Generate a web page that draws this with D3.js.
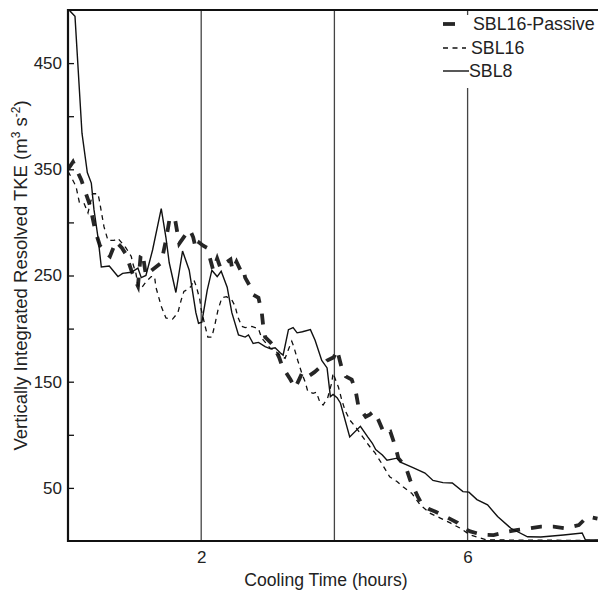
<!DOCTYPE html>
<html><head><meta charset="utf-8">
<script src="https://cdn.jsdelivr.net/npm/d3@7"></script>
<style>body{margin:0;background:#fff}svg{display:block}text{font-family:"Liberation Sans",Arial,Helvetica,sans-serif;fill:#222}</style>
</head><body><svg id="c" width="598" height="592"></svg>
<script>
// Data (time in hours, TKE in m^3 s^-2)
const sbl8 = [[0.00,505],[0.03,499],[0.105,494],[0.21,384],[0.29,347],[0.35,337],[0.39,312],[0.45,286],[0.50,258],[0.62,259],[0.75,249],[0.82,252],[0.95,253],[1.05,257],[1.10,248],[1.17,250],[1.27,274],[1.40,313],[1.47,286],[1.52,262],[1.62,234],[1.72,273],[1.82,255],[1.92,215],[1.96,205],[2.01,206],[2.09,236],[2.16,255],[2.24,249],[2.30,254],[2.39,239],[2.46,215],[2.56,194],[2.66,192],[2.71,194],[2.78,186],[2.86,187],[2.96,183],[3.04,181],[3.11,182],[3.19,177],[3.23,175],[3.31,199],[3.38,201],[3.44,196],[3.52,197],[3.64,199],[3.71,189],[3.81,170],[3.89,163],[3.94,136],[3.98,138],[4.04,135],[4.09,130],[4.23,98],[4.39,108],[4.50,98],[4.57,92],[4.62,86],[4.72,81],[4.79,76],[4.94,78],[5.00,74],[5.18,69],[5.36,64],[5.48,57],[5.63,55],[5.77,54.6],[5.93,46.5],[6.02,46],[6.14,39],[6.30,34],[6.45,23],[6.65,12],[6.90,4],[7.10,3.7],[7.44,5.6],[7.72,7.5],[7.77,1],[8.0,1]];
const sbl16 = [[0.00,348],[0.045,343],[0.12,334],[0.17,319],[0.24,318],[0.30,309],[0.37,327],[0.45,327],[0.47,321],[0.54,296],[0.60,283],[0.69,283],[0.75,285],[0.87,276],[0.95,268],[0.97,262],[1.02,252],[1.05,241],[1.10,238],[1.17,244],[1.25,249],[1.30,249],[1.32,239],[1.40,221],[1.47,210],[1.57,209],[1.65,215],[1.70,227],[1.74,235],[1.80,237],[1.85,240],[1.89,246],[1.93,239],[1.98,227],[2.00,218],[2.06,202],[2.10,192],[2.16,192],[2.21,205],[2.25,217],[2.31,229],[2.38,230],[2.46,227],[2.51,221],[2.55,211],[2.61,202],[2.66,201],[2.76,202],[2.86,200],[2.88,196],[2.91,191],[3.03,182],[3.13,178],[3.20,174],[3.26,172],[3.32,182],[3.36,188],[3.39,183],[3.45,170],[3.51,158],[3.56,150],[3.60,141],[3.68,139],[3.73,140],[3.78,131],[3.83,128],[3.90,135],[3.96,149],[3.98,158],[4.01,153],[4.06,145],[4.11,133],[4.16,123],[4.23,114],[4.31,108],[4.38,102],[4.46,95],[4.53,89],[4.61,83],[4.71,73],[4.83,60.5],[4.94,56],[5.03,51],[5.16,45],[5.29,34],[5.44,26],[5.59,21.6],[5.74,17],[5.89,12],[6.04,5.6],[6.14,3.7],[6.29,1],[8.0,0.5]];
const sbl16p = [[0.00,350],[0.075,357],[0.20,340],[0.33,316],[0.41,292],[0.48,278],[0.57,271],[0.63,268],[0.72,282],[0.81,276],[0.87,270],[0.95,255],[1.02,244],[1.05,240],[1.09,268],[1.12,271],[1.17,250],[1.24,254],[1.32,258],[1.40,262],[1.47,283],[1.53,305],[1.61,302],[1.67,280],[1.76,288],[1.83,293],[1.88,286],[1.92,275],[1.97,281],[2.03,278],[2.09,276],[2.15,262],[2.18,255],[2.24,266],[2.29,257],[2.37,262],[2.44,265],[2.47,255],[2.53,263],[2.59,255],[2.63,257],[2.66,248],[2.74,239],[2.78,232],[2.86,229],[2.91,215],[2.93,203],[2.96,192],[3.04,187],[3.08,184],[3.17,173],[3.22,164],[3.34,152],[3.41,144],[3.47,152],[3.52,159],[3.61,155],[3.70,159],[3.79,164],[3.89,170],[3.99,173],[4.04,180],[4.11,163],[4.17,155],[4.26,152],[4.32,141],[4.36,127],[4.47,117],[4.53,119],[4.59,122],[4.66,114],[4.75,101],[4.84,103],[4.92,88],[4.96,78],[5.07,70],[5.14,57],[5.25,42],[5.32,34],[5.42,30],[5.52,27.6],[5.67,23],[5.85,17],[5.94,12],[6.04,9],[6.21,6],[6.39,5.6],[6.60,8.8],[6.75,10.4],[6.95,12],[7.10,13.5],[7.29,13.5],[7.47,12],[7.67,15],[7.80,23],[7.95,21]];
const yTicks = [50,100,150,200,250,300,350,400,450];
const yLabels = [50,150,250,350,450];
const xTicks = [2,4,6];
const xLabels = [2,6];
const legendNames = ["SBL16-Passive","SBL16","SBL8"];

const svg = d3.select("#c");
const L=68, R=600.8, T=10, B=541;
const x = d3.scaleLinear().domain([0,8]).range([L,R]);
const y = d3.scaleLinear().domain([0,500]).range([B,T]);

svg.append("defs").append("clipPath").attr("id","clip").append("rect")
  .attr("x",L).attr("y",T).attr("width",R-L).attr("height",B-T);

// vertical reference lines
svg.append("g").selectAll("line").data(xTicks).join("line")
  .attr("x1",d=>x(d)).attr("x2",d=>x(d)).attr("y1",T).attr("y2",B)
  .attr("stroke","#444").attr("stroke-width",1.3);

const line = d3.line().x(d=>x(d[0])).y(d=>y(d[1]));
const g = svg.append("g").attr("clip-path","url(#clip)");
g.append("path").datum(sbl16p).attr("d",line).attr("fill","none")
  .attr("stroke","#262626").attr("stroke-width",3.8).attr("stroke-dasharray","11,11");
g.append("path").datum(sbl16).attr("d",line).attr("fill","none")
  .attr("stroke","#111").attr("stroke-width",1.3).attr("stroke-dasharray","5,4.5");
g.append("path").datum(sbl8).attr("d",line).attr("fill","none")
  .attr("stroke","#111").attr("stroke-width",1.4);

// legend
svg.append("rect").attr("x",437).attr("y",15).attr("width",161).attr("height",73).attr("fill","#fff");
const lg = svg.append("g");
const rows = [24,48,71];
lg.append("line").attr("x1",443).attr("x2",455).attr("y1",rows[0]).attr("y2",rows[0])
  .attr("stroke","#262626").attr("stroke-width",3.8);
lg.append("line").attr("x1",443).attr("x2",466).attr("y1",rows[1]).attr("y2",rows[1])
  .attr("stroke","#111").attr("stroke-width",1.3).attr("stroke-dasharray","5,4.5");
lg.append("line").attr("x1",443).attr("x2",469).attr("y1",rows[2]).attr("y2",rows[2])
  .attr("stroke","#111").attr("stroke-width",1.4);
const lx=[473,471,469];
lg.selectAll("text").data(legendNames).join("text")
  .attr("x",(d,i)=>lx[i]).attr("y",(d,i)=>rows[i]).attr("dy","0.36em")
  .attr("font-size",17.8).text(d=>d);

// axes
const yAxis = d3.axisLeft(y).tickValues(yTicks).tickSizeInner(-6).tickSizeOuter(0).tickPadding(6)
  .tickFormat(d=>yLabels.includes(d)?d:"");
const ya = svg.append("g").attr("transform",`translate(${L},0)`).call(yAxis);
ya.select(".domain").remove();
ya.selectAll("line").attr("stroke","#111").attr("stroke-width",1.3);
ya.selectAll("text").attr("font-size",17).attr("fill","#222");

const xAxis = d3.axisBottom(x).tickValues(xTicks).tickSize(0).tickPadding(10)
  .tickFormat(d=>xLabels.includes(d)?d:"");
const xa = svg.append("g").attr("transform",`translate(0,${B})`).call(xAxis);
xa.select(".domain").remove();
xa.selectAll("text").attr("font-size",17).attr("fill","#222");

// frame lines
svg.append("line").attr("x1",L).attr("x2",598).attr("y1",B).attr("y2",B).attr("stroke","#111").attr("stroke-width",2.2);
svg.append("line").attr("x1",L).attr("x2",598).attr("y1",T).attr("y2",T).attr("stroke","#111").attr("stroke-width",2);
svg.append("line").attr("x1",L).attr("x2",L).attr("y1",T-1).attr("y2",B+1).attr("stroke","#111").attr("stroke-width",2.2);

// axis titles
svg.append("text").attr("x",326).attr("y",586).attr("text-anchor","middle").attr("font-size",17.6)
  .text("Cooling Time (hours)");
const yt = svg.append("text").attr("transform",`translate(27,${(T+B)/2}) rotate(-90)`)
  .attr("text-anchor","middle").attr("font-size",18.5);
yt.append("tspan").text("Vertically Integrated Resolved TKE (m");
yt.append("tspan").attr("font-size",12).attr("dy",-7).text("3");
yt.append("tspan").attr("dy",7).text(" s");
yt.append("tspan").attr("font-size",12).attr("dy",-7).text("-2");
yt.append("tspan").attr("dy",7).text(")");
</script></body></html>
